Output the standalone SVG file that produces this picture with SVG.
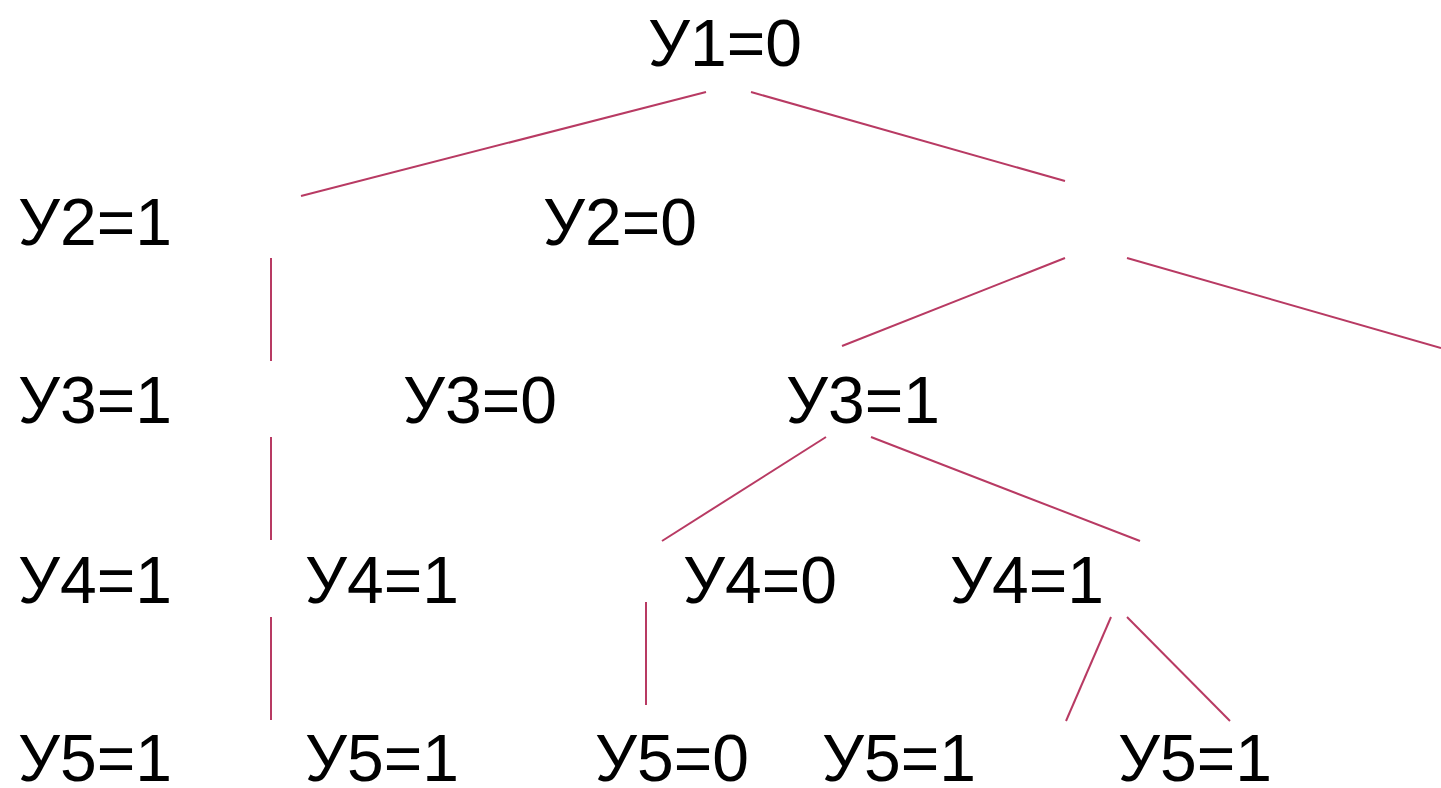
<svg xmlns="http://www.w3.org/2000/svg" width="1441" height="788" viewBox="0 0 1441 788">
<style>
.t{font-family:"Liberation Sans",Arial,sans-serif;font-size:66px;fill:#000}
.c line{stroke:#B83A63;stroke-width:2;fill:none}
</style>
<rect width="1441" height="788" fill="#fff"/>
<g class="c" id="connectors">
<line x1="706" y1="92" x2="301" y2="196"/>
<line x1="751" y1="92" x2="1065" y2="181"/>
<line x1="271" y1="258" x2="271" y2="361"/>
<line x1="1065" y1="258" x2="842" y2="346"/>
<line x1="1127" y1="258" x2="1441" y2="348"/>
<line x1="271" y1="437" x2="271" y2="540"/>
<line x1="826" y1="437" x2="662" y2="541"/>
<line x1="871" y1="437" x2="1140" y2="541"/>
<line x1="271" y1="617" x2="271" y2="720"/>
<line x1="646" y1="602" x2="646" y2="705"/>
<line x1="1111" y1="617" x2="1066" y2="721"/>
<line x1="1127" y1="617" x2="1230" y2="721"/>
</g>
<g id="n1"><text class="t" x="648" y="66">У1=0</text></g>
<g id="n2a"><text class="t" x="18" y="245">У2=1</text></g>
<g id="n2b"><text class="t" x="543" y="245">У2=0</text></g>
<g id="n3a"><text class="t" x="18" y="423">У3=1</text></g>
<g id="n3b"><text class="t" x="403" y="423">У3=0</text></g>
<g id="n3c"><text class="t" x="786" y="423">У3=1</text></g>
<g id="n4a"><text class="t" x="18" y="603">У4=1</text></g>
<g id="n4b"><text class="t" x="305" y="603">У4=1</text></g>
<g id="n4c"><text class="t" x="683" y="603">У4=0</text></g>
<g id="n4d"><text class="t" x="950" y="603">У4=1</text></g>
<g id="n5a"><text class="t" x="18" y="781">У5=1</text></g>
<g id="n5b"><text class="t" x="305" y="781">У5=1</text></g>
<g id="n5c"><text class="t" x="595" y="781">У5=0</text></g>
<g id="n5d"><text class="t" x="822" y="781">У5=1</text></g>
<g id="n5e"><text class="t" x="1118" y="781">У5=1</text></g>
</svg>
